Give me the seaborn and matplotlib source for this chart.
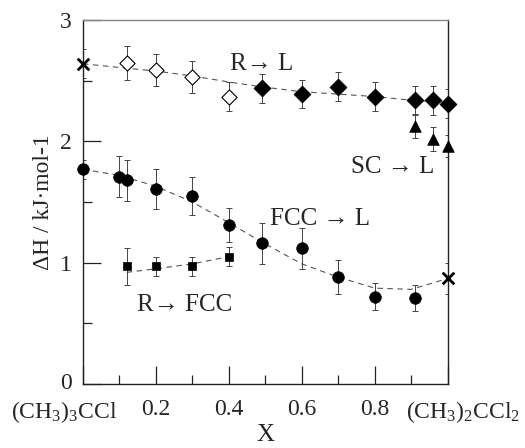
import numpy as np
import pandas as pd
import matplotlib
matplotlib.use("Agg")
import matplotlib.pyplot as plt
import matplotlib.transforms as mtransforms
import seaborn as sns
from matplotlib.ticker import MultipleLocator

# ---------------- data ----------------
rl_open_x = [0.12, 0.20, 0.30, 0.40]
rl_open_y = [2.65, 2.59, 2.53, 2.37]
rl_open_err = [0.14, 0.13, 0.13, 0.12]
rl_fill_x = [0.49, 0.60, 0.70, 0.80, 0.91, 0.96, 1.00]
rl_fill_y = [2.44, 2.39, 2.45, 2.37, 2.34, 2.34, 2.31]
rl_fill_err = [0.12, 0.115, 0.12, 0.12, 0.12, 0.12, 0.12]

sc_x = [0.91, 0.96, 1.00]
sc_y = [2.13, 2.02, 1.96]
sc_err = [0.10, 0.10, 0.09]

fcc_x = [0.00, 0.10, 0.12, 0.20, 0.30, 0.40, 0.49, 0.60, 0.70, 0.80, 0.91]
fcc_y = [1.77, 1.71, 1.68, 1.61, 1.55, 1.31, 1.16, 1.12, 0.88, 0.72, 0.71]
fcc_err = [0.08, 0.17, 0.17, 0.165, 0.16, 0.14, 0.17, 0.17, 0.14, 0.11, 0.11]

rf_x = [0.12, 0.20, 0.30, 0.40]
rf_y = [0.97, 0.97, 0.97, 1.05]
rf_err = [0.15, 0.08, 0.08, 0.08]

cross_x = [0.00, 1.00]
cross_y = [2.64, 0.87]
cross_err = [0.12, 0.13]

fit_rl_x = [0.0, 0.1, 0.2, 0.3, 0.4, 0.49, 0.6, 0.7, 0.8, 0.9, 1.0]
fit_rl_y = [2.64, 2.61, 2.58, 2.54, 2.49, 2.45, 2.41, 2.39, 2.37, 2.34, 2.32]
fit_fcc_x = [0.0, 0.1, 0.2, 0.3, 0.4, 0.49, 0.6, 0.7, 0.8, 0.9, 1.0]
fit_fcc_y = [1.77, 1.72, 1.63, 1.50, 1.33, 1.17, 0.99, 0.88, 0.79, 0.78, 0.87]
fit_rf_x = [0.12, 0.2, 0.3, 0.4]
fit_rf_y = [0.92, 0.95, 0.99, 1.05]

x_ticks = [0.0, 0.2, 0.4, 0.6, 0.8, 1.0]
x_ticklabels = [r"(CH$_3$)$_3$CCl", "0.2", "0.4", "0.6", "0.8", r"(CH$_3$)$_2$CCl$_2$"]
y_ticks = [0, 1, 2, 3]

# ---------------- style ----------------
sns.set_style("ticks")
plt.rcParams["font.family"] = ["Liberation Serif", "DejaVu Serif"]
plt.rcParams["mathtext.fontset"] = "custom"
plt.rcParams["mathtext.rm"] = "Liberation Serif"
plt.rcParams["mathtext.it"] = "Liberation Serif:italic"

fig = plt.figure(figsize=(5.25, 4.48), dpi=100)
ax = fig.add_axes([0.158, 0.143, 0.695, 0.812])

line_kw = dict(color="#555555", linewidth=0.8, linestyle=(0, (5, 4)))
sns.lineplot(x=fit_rl_x, y=fit_rl_y, ax=ax, sort=False, **line_kw)
sns.lineplot(x=fit_fcc_x, y=fit_fcc_y, ax=ax, sort=False, **line_kw)
sns.lineplot(x=fit_rf_x, y=fit_rf_y, ax=ax, sort=False, **line_kw)

err_kw = dict(fmt="none", ecolor="#444444", elinewidth=0.7, capsize=2.2, capthick=0.7, zorder=2)
for xs, ys, es in [(rl_open_x, rl_open_y, rl_open_err), (rl_fill_x, rl_fill_y, rl_fill_err),
                   (sc_x, sc_y, sc_err), (fcc_x, fcc_y, fcc_err), (rf_x, rf_y, rf_err),
                   (cross_x, cross_y, cross_err)]:
    ax.errorbar(xs, ys, yerr=es, **err_kw)

sc_kw = dict(ax=ax, zorder=3, clip_on=False)
sns.scatterplot(x=rl_open_x, y=rl_open_y, marker="D", s=60, facecolor="white",
                edgecolor="black", linewidth=0.8, **sc_kw)
sns.scatterplot(x=rl_fill_x, y=rl_fill_y, marker="D", s=75, color="black",
                edgecolor="black", linewidth=0.5, **sc_kw)
sns.scatterplot(x=sc_x, y=sc_y, marker="^", s=70, color="black",
                edgecolor="black", linewidth=0.5, **sc_kw)
sns.scatterplot(x=fcc_x, y=fcc_y, marker="o", s=70, color="black",
                edgecolor="black", linewidth=0.5, **sc_kw)
sns.scatterplot(x=rf_x, y=rf_y, marker="s", s=40, color="black",
                edgecolor="black", linewidth=0.5, **sc_kw)
sns.scatterplot(x=cross_x, y=cross_y, marker="x", s=70, color="black",
                linewidth=2.0, ax=ax, zorder=4, clip_on=False)

ax.set_xlim(0, 1)
ax.set_ylim(0, 3)
ax.set_xticks(x_ticks)
ax.set_xticklabels(x_ticklabels)
ax.set_yticks(y_ticks)
ax.xaxis.set_minor_locator(MultipleLocator(0.1))
ax.yaxis.set_minor_locator(MultipleLocator(0.5))
ax.tick_params(axis="both", which="major", direction="in", length=13, width=0.9,
               labelsize=17, color="#222222")
ax.tick_params(axis="both", which="minor", direction="in", length=6.5, width=0.9,
               color="#222222")
ax.tick_params(axis="x", which="both", pad=11, top=False)
ax.tick_params(axis="y", which="both", pad=8, right=False)

# outer tick labels are pushed outward in the reference; the y "0" sits a bit higher
xlabs = ax.get_xticklabels()
xlabs[0].set_transform(xlabs[0].get_transform() +
                       mtransforms.ScaledTranslation(-19 / 100, 0, fig.dpi_scale_trans))
xlabs[-1].set_transform(xlabs[-1].get_transform() +
                        mtransforms.ScaledTranslation(15 / 100, 0, fig.dpi_scale_trans))
ylabs = ax.get_yticklabels()
ylabs[0].set_transform(ylabs[0].get_transform() +
                       mtransforms.ScaledTranslation(0, 3 / 100, fig.dpi_scale_trans))

for side in ["left", "bottom", "right"]:
    ax.spines[side].set_color("#222222")
    ax.spines[side].set_linewidth(1.0)
ax.spines["top"].set_color("#888888")
ax.spines["top"].set_linewidth(1.0)

ax.set_xlabel("X", fontsize=18, labelpad=-1)
ax.set_ylabel("ΔH / kJ·mol-1", fontsize=17, labelpad=4)

ax.text(0.49, 2.64, "R→ L", fontsize=18, ha="center", va="center")
ax.text(0.85, 1.79, "SC → L", fontsize=18, ha="center", va="center")
ax.text(0.65, 1.36, "FCC → L", fontsize=18, ha="center", va="center")
ax.text(0.28, 0.65, "R→ FCC", fontsize=18, ha="center", va="center")

fig.savefig("out.png", dpi=100)
